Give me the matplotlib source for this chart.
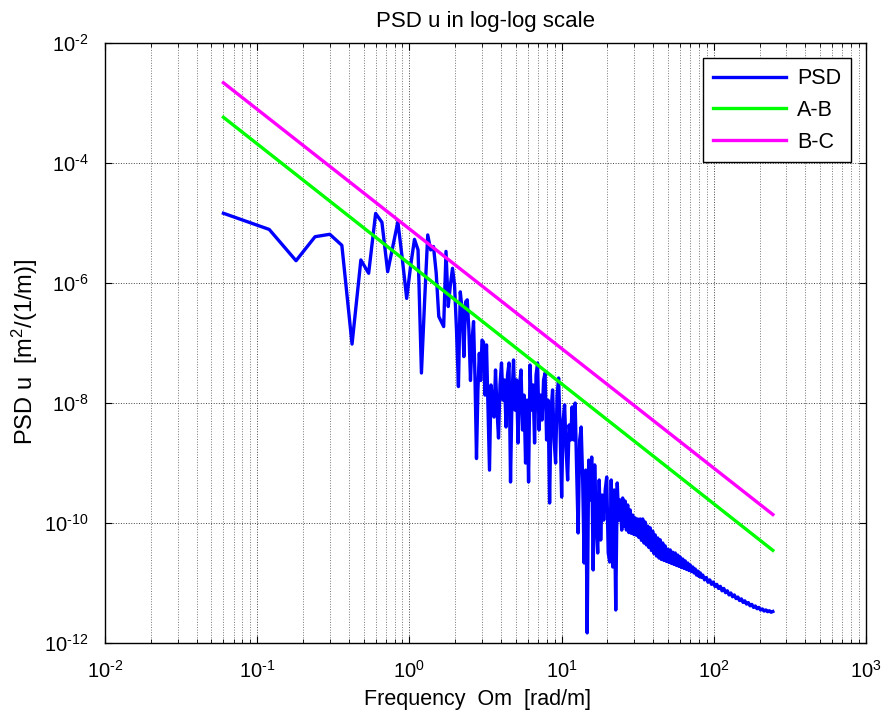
import numpy as np
import matplotlib
matplotlib.use("Agg")
import matplotlib.pyplot as plt
from matplotlib.ticker import LogLocator, NullLocator, FixedLocator, FuncFormatter

# ---------------- data ----------------
om_step = 0.06
k_low = np.arange(1, 51)
psd_low = [1.47e-5, 7.9e-6, 2.38e-6, 5.98e-6, 6.56e-6, 4.3e-6, 9.7e-8, 2.45e-6, 1.47e-6, 1.46e-5,
           1.04e-5, 1.56e-6, 4.2e-6, 1.06e-5, 2.45e-6, 5.6e-7, 2.0e-6, 5.4e-6, 3.6e-6, 3.2e-8,
           5.3e-7, 6.4e-6, 3.6e-6, 4.1e-6, 1.49e-6, 2.8e-7, 2.3e-7, 1.9e-7, 3.4e-6, 4.1e-7,
           9.4e-7, 1.78e-6, 9.4e-7, 1.66e-7, 1.9e-8, 7.2e-7, 3.6e-7, 6.0e-8, 4.9e-7, 5.3e-7,
           1.67e-7, 2.4e-8, 1.13e-7, 2.3e-7, 2.45e-8, 1.2e-9, 1.67e-8, 6.8e-8, 2.4e-8, 1.13e-7]

om_mid = [3.068, 3.139, 3.211, 3.285, 3.360, 3.437, 3.516, 3.597, 3.680, 3.765,
          3.851, 3.940, 4.030, 4.123, 4.218, 4.315, 4.414, 4.515, 4.619, 4.725,
          4.834, 4.945, 5.059, 5.175, 5.294, 5.416, 5.540, 5.668, 5.798, 5.931,
          6.068, 6.207, 6.350, 6.496, 6.645, 6.798, 6.954, 7.114, 7.278, 7.445,
          7.616, 7.791, 7.970, 8.154, 8.341, 8.533, 8.729, 8.930, 9.136, 9.346,
          9.561, 9.781, 10.01, 10.24, 10.47, 10.71, 10.96, 11.21, 11.47, 11.73,
          12.00, 12.28, 12.56, 12.85, 13.15, 13.45, 13.76, 14.07, 14.40, 14.73,
          15.07, 15.41, 15.77, 16.13, 16.50, 16.88, 17.27, 17.67, 18.07, 18.49,
          18.91, 19.35, 19.79, 20.25, 20.71, 21.19, 21.68, 22.18, 22.69, 23.21,
          23.74, 24.29, 24.85]
psd_mid = [1.05e-7, 1.37e-8, 9.4e-8, 7.7e-9, 7.7e-10, 2.02e-8, 1.13e-8, 5.9e-9, 3.59e-8, 7.7e-9,
           2.64e-9, 2.02e-8, 4.70e-8, 1.13e-8, 2.45e-8, 4.03e-9, 2.96e-8, 4.70e-8, 4.88e-10, 1.37e-8,
           5.27e-8, 7.7e-9, 2.45e-8, 2.18e-9, 2.02e-8, 3.59e-8, 3.59e-9, 1.37e-8, 1.01e-9, 1.13e-8,
           4.88e-10, 4.35e-8, 7.7e-9, 2.02e-8, 2.18e-9, 2.96e-8, 4.70e-8, 3.59e-9, 1.37e-8, 5.27e-9,
           2.45e-8, 3.20e-8, 2.45e-9, 1.13e-8, 2.18e-10, 7.7e-9, 1.67e-8, 2.45e-9, 1.01e-9, 1.37e-8,
           2.64e-8, 3.59e-9, 2.74e-10, 5.27e-9, 9.4e-9, 1.67e-9, 5.27e-10, 4.35e-9, 2.45e-9, 8.7e-9,
           2.45e-9, 1.01e-8, 7.7e-10, 6.9e-11, 2.45e-9, 4.03e-9, 5.27e-10, 2.18e-11, 7.7e-10, 1.49e-12,
           1.13e-9, 2.45e-10, 1.27e-9, 1.67e-11, 9.4e-10, 1.13e-10, 3.20e-11, 5.27e-10, 5.27e-11, 2.96e-10,
           1.13e-10, 3.59e-10, 5.9e-10, 3.20e-11, 2.26e-11, 5.27e-10, 1.87e-11, 3.59e-10, 3.59e-12, 4.70e-10,
           1.13e-10, 2.45e-10, 7.7e-11]

om_tail = [25.2, 25.68, 26.17, 26.67, 27.18, 27.70, 28.23, 28.77, 29.32, 29.88,
           30.45, 31.04, 31.63, 32.24, 32.85, 33.48, 34.12, 34.77, 35.43, 36.11,
           36.80, 37.50, 38.22, 38.95, 39.70, 40.46, 41.23, 42.02, 42.82, 43.64,
           44.47, 45.32, 46.19, 47.07, 47.97, 48.89, 49.82, 50.78, 51.75, 52.74,
           53.74, 54.77, 55.82, 56.89, 57.97, 59.08, 60.21, 61.36, 62.53, 63.73,
           64.95, 66.19, 67.45, 68.74, 70.06, 71.40, 72.76, 74.15, 75.57, 77.01,
           78.48, 79.98, 81.51, 83.07, 84.66,
           86.93, 89.27, 91.67, 94.13, 96.66, 99.26, 101.9, 104.7, 107.5, 110.4,
           113.3, 116.4, 119.5, 122.7, 126.0, 129.4, 132.9, 136.4, 140.1, 143.9,
           147.7, 151.7, 155.8, 159.9, 164.2, 168.6, 173.2, 177.8, 182.6, 187.5,
           192.5, 197.7, 203.0, 208.5, 214.1, 219.8, 225.7, 231.8, 238.0, 244.4]
psd_tail = [2.64e-10, 8.9e-11, 2.35e-10, 7.7e-11, 2.02e-10, 7.0e-11, 1.67e-10, 6.8e-11, 1.37e-10, 6.5e-11,
            1.23e-10, 6.3e-11, 1.18e-10, 5.8e-11, 1.18e-10, 5.2e-11, 1.18e-10, 4.7e-11, 1.05e-10, 4.35e-11,
            9.0e-11, 3.95e-11, 8.4e-11, 3.52e-11, 7.4e-11, 3.14e-11, 6.4e-11, 2.85e-11, 5.7e-11, 2.64e-11,
            5.3e-11, 2.49e-11, 4.7e-11, 2.40e-11, 4.2e-11, 2.31e-11, 3.7e-11, 2.22e-11, 3.6e-11, 2.14e-11,
            3.3e-11, 2.06e-11, 3.2e-11, 1.98e-11, 2.96e-11, 1.91e-11, 2.74e-11, 1.83e-11, 2.54e-11, 1.77e-11,
            2.36e-11, 1.70e-11, 2.18e-11, 1.63e-11, 2.02e-11, 1.57e-11, 1.87e-11, 1.49e-11, 1.73e-11, 1.37e-11,
            1.60e-11, 1.30e-11, 1.49e-11, 1.25e-11, 1.37e-11,
            1.14e-11, 1.25e-11, 1.04e-11, 1.14e-11, 9.6e-12, 1.05e-11, 8.85e-12, 9.6e-12, 8.2e-12, 8.9e-12,
            7.5e-12, 8.2e-12, 6.97e-12, 7.5e-12, 6.4e-12, 6.9e-12, 5.96e-12, 6.4e-12, 5.56e-12, 5.9e-12,
            5.16e-12, 5.5e-12, 4.8e-12, 5.1e-12, 4.5e-12, 4.77e-12, 4.22e-12, 4.45e-12, 3.96e-12, 4.19e-12,
            3.77e-12, 3.96e-12, 3.59e-12, 3.74e-12, 3.44e-12, 3.6e-12, 3.36e-12, 3.49e-12, 3.29e-12, 3.39e-12]

# reference power-law lines (end points)
ab_om = [0.06, 244.4]
ab_psd = [5.85e-4, 3.54e-11]
bc_om = [0.06, 244.4]
bc_psd = [2.2e-3, 1.4e-10]

series_labels = ["PSD", "A-B", "B-C"]
title_text = "PSD u in log-log scale"
xlabel_text = "Frequency  Om  [rad/m]"
ylabel_text = "PSD u  [m$^2$/(1/m)]"
y_ticks = [1e-12, 1e-10, 1e-8, 1e-6, 1e-4, 1e-2]

# ---------------- plotting ----------------
plt.rcParams['font.family'] = ['Liberation Sans', 'DejaVu Sans']
plt.rcParams['mathtext.fontset'] = 'custom'
plt.rcParams['mathtext.rm'] = 'Liberation Sans'
plt.rcParams['mathtext.it'] = 'Liberation Sans'
plt.rcParams['mathtext.bf'] = 'Liberation Sans'
plt.rcParams['mathtext.default'] = 'regular'

om_psd = list(om_step * k_low) + om_mid + om_tail
psd = psd_low + psd_mid + psd_tail

fig = plt.figure(figsize=(8.86, 7.17), dpi=100)
ax = fig.add_axes([0.1185, 0.1028, 0.8589, 0.8368])

ax.loglog(om_psd, psd, color='#0000FF', lw=2.4, label=series_labels[0])
ax.loglog(ab_om, ab_psd, color='#00FF00', lw=2.4, label=series_labels[1])
ax.loglog(bc_om, bc_psd, color='#FF00FF', lw=2.4, label=series_labels[2])

ax.set_xlim(1e-2, 1e3)
ax.set_ylim(1e-12, 1e-2)
ax.xaxis.set_major_locator(LogLocator(base=10, numticks=20))
ax.xaxis.set_minor_locator(LogLocator(base=10, subs=np.arange(2, 10), numticks=50))
ax.yaxis.set_major_locator(FixedLocator(y_ticks))
ax.yaxis.set_minor_locator(NullLocator())


def dec_fmt(v, pos):
    e = int(round(np.log10(v)))
    if e < 0:
        return r'$10^{\text{-}%d}$' % (-e)
    return r'$10^{%d}$' % e


ax.xaxis.set_major_formatter(FuncFormatter(dec_fmt))
ax.yaxis.set_major_formatter(FuncFormatter(dec_fmt))

ax.grid(which='major', ls=':', color='#444444', lw=0.7)
ax.grid(which='minor', axis='x', ls=':', color='#777777', lw=0.7)

ax.tick_params(which='both', direction='in', top=True, right=True, labelsize=14.5)
ax.tick_params(which='major', length=5, width=0.8)
ax.tick_params(which='minor', length=3, width=0.6)
ax.tick_params(axis='x', pad=12)
ax.tick_params(axis='y', pad=12)
for s in ax.spines.values():
    s.set_linewidth(1.0)

ax.set_title(title_text, fontsize=16, pad=12)
ax.set_xlabel(xlabel_text, fontsize=15.5)
ax.set_ylabel(ylabel_text, fontsize=17)
ax.xaxis.set_label_coords(0.49, -0.077)
ax.yaxis.set_label_coords(-0.085, 0.485)

leg = ax.legend(loc='upper right', fontsize=15.5, frameon=True, fancybox=False,
                edgecolor='black', framealpha=1, borderaxespad=0.7,
                handlelength=3.4, handletextpad=0.5, labelspacing=0.5, borderpad=0.45)
leg.get_frame().set_linewidth(1.0)

fig.savefig("out.png", dpi=100)
